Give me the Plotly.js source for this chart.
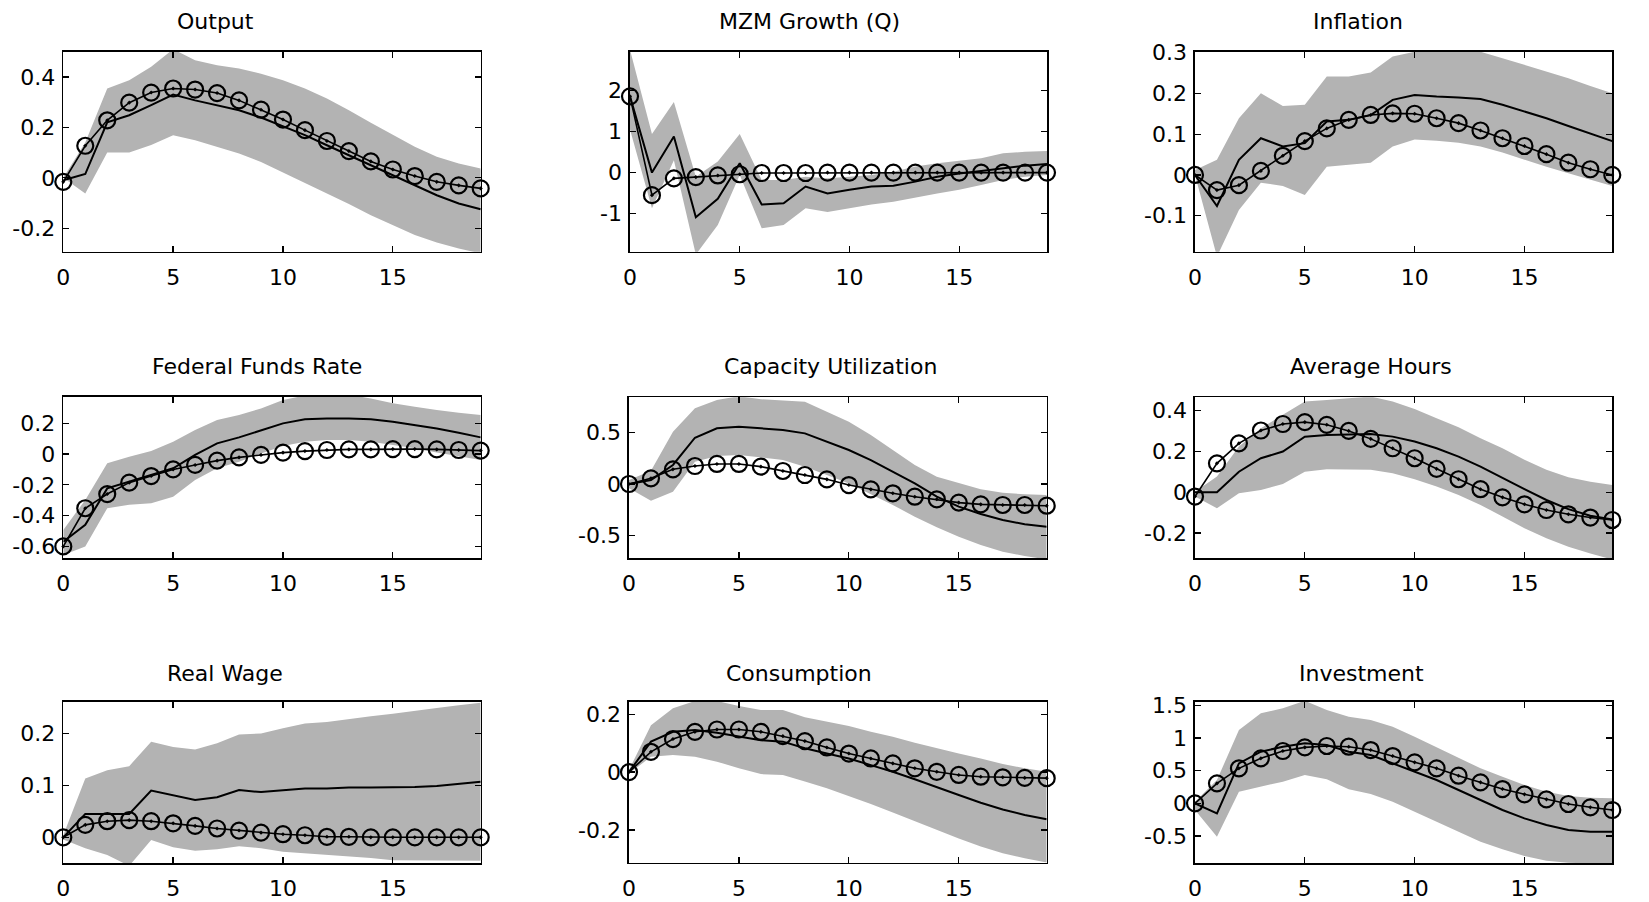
<!DOCTYPE html>
<html>
<head>
<meta charset="utf-8">
<script src="https://cdn.plot.ly/plotly-3.0.1.min.js"></script>
<style>
html,body{margin:0;padding:0;background:#fff;}
#chart{width:1649px;height:902px;}
</style>
</head>
<body>
<div id="chart"></div>
<script>
// Horizon (quarters)
const horizon = [0,1,2,3,4,5,6,7,8,9,10,11,12,13,14,15,16,17,18,19];
const xTickVals = [0,5,10,15];
const xTickText = ["0","5","10","15"];

const panelTitles = ["Output","MZM Growth (Q)","Inflation","Federal Funds Rate","Capacity Utilization","Average Hours","Real Wage","Consumption","Investment"];

// Output
const outputModel = [-0.016,0.127,0.228,0.298,0.338,0.354,0.35,0.336,0.307,0.27,0.231,0.189,0.146,0.106,0.065,0.033,0.007,-0.016,-0.03,-0.042];
const outputVar   = [-0.01,0.015,0.22,0.248,0.288,0.33,0.307,0.288,0.268,0.239,0.204,0.169,0.129,0.09,0.05,0.01,-0.029,-0.069,-0.102,-0.125];
const outputUpper = [0,0.14,0.354,0.387,0.44,0.51,0.466,0.446,0.433,0.413,0.387,0.354,0.314,0.268,0.218,0.169,0.123,0.083,0.057,0.037];
const outputLower = [0,-0.062,0.1,0.1,0.13,0.169,0.149,0.123,0.096,0.063,0.024,-0.02,-0.062,-0.104,-0.148,-0.187,-0.227,-0.257,-0.28,-0.3];
const outputTicks = [-0.2,0,0.2,0.4];
const outputTickText = ["-0.2","0","0.2","0.4"];

// MZM Growth (Q)
const mzmModel = [1.86,-0.55,-0.14,-0.11,-0.07,-0.04,-0.01,-0.01,-0.01,0,0,0,0,0,0,0,0,0,0,0];
const mzmVar   = [1.86,0,0.88,-1.09,-0.64,0.23,-0.78,-0.75,-0.34,-0.51,-0.42,-0.34,-0.32,-0.22,-0.1,-0.02,0.04,0.11,0.17,0.21];
const mzmUpper = [3.0,0.94,1.72,-0.1,0.27,0.94,-0.18,-0.18,-0.1,-0.14,-0.1,-0.06,0.02,0.15,0.23,0.29,0.35,0.47,0.51,0.53];
const mzmLower = [1.05,-0.87,0.3,-2.0,-1.28,-0.06,-1.36,-1.28,-0.87,-0.96,-0.87,-0.78,-0.71,-0.61,-0.51,-0.42,-0.3,-0.18,-0.1,-0.06];
const mzmTicks = [-1,0,1,2];
const mzmTickText = ["-1","0","1","2"];

// Inflation
const inflModel = [0,-0.037,-0.025,0.01,0.047,0.083,0.114,0.135,0.147,0.151,0.15,0.139,0.127,0.109,0.09,0.071,0.051,0.03,0.014,0];
const inflVar   = [0,-0.076,0.037,0.09,0.07,0.078,0.131,0.135,0.147,0.184,0.196,0.192,0.19,0.186,0.172,0.155,0.139,0.12,0.102,0.083];
const inflUpper = [0.012,0.037,0.139,0.2,0.169,0.172,0.241,0.241,0.251,0.29,0.302,0.307,0.307,0.302,0.286,0.27,0.253,0.237,0.218,0.2];
const inflLower = [0,-0.2,-0.086,-0.019,-0.027,-0.049,0.02,0.025,0.03,0.07,0.087,0.084,0.079,0.07,0.055,0.038,0.02,0.004,-0.012,-0.027];
const inflTicks = [-0.1,0,0.1,0.2,0.3];
const inflTickText = ["-0.1","0","0.1","0.2","0.3"];

// Federal Funds Rate
const ffrModel = [-0.6,-0.352,-0.26,-0.186,-0.143,-0.1,-0.071,-0.043,-0.022,-0.006,0.009,0.019,0.026,0.03,0.03,0.032,0.032,0.03,0.026,0.022];
const ffrVar   = [-0.569,-0.46,-0.223,-0.18,-0.136,-0.093,-0.006,0.069,0.108,0.156,0.199,0.225,0.231,0.231,0.225,0.21,0.188,0.166,0.138,0.108];
const ffrUpper = [-0.493,-0.298,-0.06,-0.017,0.019,0.08,0.156,0.22,0.253,0.296,0.35,0.38,0.385,0.385,0.361,0.329,0.307,0.285,0.268,0.253];
const ffrLower = [-0.655,-0.6,-0.352,-0.33,-0.32,-0.277,-0.169,-0.093,-0.05,0.004,0.052,0.08,0.091,0.091,0.08,0.058,0.037,0.009,-0.017,-0.039];
const ffrTicks = [-0.6,-0.4,-0.2,0,0.2];
const ffrTickText = ["-0.6","-0.4","-0.2","0","0.2"];

// Capacity Utilization
const capModel = [0,0.055,0.142,0.174,0.194,0.194,0.168,0.126,0.087,0.045,-0.01,-0.052,-0.09,-0.123,-0.148,-0.18,-0.197,-0.203,-0.203,-0.21];
const capVar   = [0,0.039,0.184,0.448,0.539,0.555,0.539,0.523,0.49,0.41,0.329,0.232,0.119,0.006,-0.123,-0.219,-0.29,-0.348,-0.39,-0.413];
const capUpper = [0.039,0.129,0.506,0.732,0.813,0.85,0.82,0.806,0.797,0.7,0.603,0.474,0.329,0.184,0.071,0.006,-0.052,-0.084,-0.1,-0.106];
const capLower = [-0.042,-0.161,-0.074,0.216,0.271,0.281,0.258,0.232,0.168,0.087,0.006,-0.097,-0.203,-0.316,-0.419,-0.51,-0.59,-0.655,-0.697,-0.73];
const capTicks = [-0.5,0,0.5];
const capTickText = ["-0.5","0","0.5"];

// Average Hours
const hoursModel = [-0.021,0.142,0.24,0.303,0.335,0.344,0.331,0.301,0.262,0.216,0.167,0.115,0.064,0.015,-0.025,-0.059,-0.087,-0.108,-0.124,-0.136];
const hoursVar   = [0,0,0.101,0.167,0.2,0.273,0.281,0.285,0.286,0.273,0.249,0.216,0.175,0.126,0.069,0.015,-0.038,-0.083,-0.115,-0.133];
const hoursUpper = [0.003,0.077,0.224,0.314,0.38,0.445,0.453,0.462,0.47,0.445,0.408,0.363,0.319,0.265,0.216,0.159,0.11,0.074,0.052,0.036];
const hoursLower = [-0.021,-0.079,-0.005,0.011,0.041,0.101,0.113,0.11,0.11,0.093,0.064,0.028,-0.013,-0.062,-0.119,-0.177,-0.226,-0.267,-0.3,-0.33];
const hoursTicks = [-0.2,0,0.2,0.4];
const hoursTickText = ["-0.2","0","0.2","0.4"];

// Real Wage
const wageModel = [0,0.024,0.031,0.033,0.031,0.027,0.022,0.017,0.013,0.009,0.006,0.004,0.001,0.001,0,0,0,0,0,0];
const wageVar   = [0,0.045,0.045,0.045,0.09,0.081,0.072,0.077,0.091,0.087,0.091,0.094,0.094,0.096,0.096,0.096,0.097,0.099,0.103,0.107];
const wageUpper = [0.004,0.113,0.129,0.137,0.184,0.174,0.169,0.181,0.198,0.2,0.21,0.219,0.222,0.228,0.233,0.238,0.244,0.249,0.254,0.259];
const wageLower = [-0.004,-0.021,-0.034,-0.055,-0.005,-0.019,-0.026,-0.023,-0.017,-0.021,-0.028,-0.031,-0.034,-0.037,-0.04,-0.044,-0.045,-0.045,-0.045,-0.045];
const wageTicks = [0,0.1,0.2];
const wageTickText = ["0","0.1","0.2"];

// Consumption
const consModel = [0,0.07,0.114,0.139,0.147,0.147,0.139,0.124,0.107,0.085,0.064,0.047,0.03,0.013,0.001,-0.01,-0.016,-0.018,-0.02,-0.021];
const consVar   = [0,0.105,0.139,0.145,0.136,0.122,0.11,0.105,0.082,0.064,0.047,0.024,0.001,-0.025,-0.051,-0.079,-0.106,-0.129,-0.148,-0.163];
const consUpper = [0.007,0.162,0.22,0.245,0.245,0.228,0.214,0.214,0.189,0.174,0.159,0.139,0.122,0.101,0.082,0.064,0.047,0.028,0.013,0.001];
const consLower = [-0.005,0.053,0.059,0.053,0.036,0.013,-0.007,-0.01,-0.033,-0.056,-0.083,-0.11,-0.14,-0.171,-0.2,-0.229,-0.257,-0.28,-0.298,-0.312];
const consTicks = [-0.2,0,0.2];
const consTickText = ["-0.2","0","0.2"];

// Investment
const invModel = [0,0.306,0.536,0.689,0.801,0.857,0.878,0.867,0.816,0.724,0.628,0.536,0.423,0.321,0.219,0.138,0.061,-0.01,-0.061,-0.102];
const invVar   = [0,-0.153,0.612,0.791,0.867,0.918,0.893,0.791,0.74,0.612,0.485,0.357,0.204,0.051,-0.102,-0.23,-0.332,-0.408,-0.434,-0.434];
const invUpper = [0.026,0.357,1.122,1.378,1.454,1.57,1.429,1.327,1.276,1.173,1.02,0.857,0.689,0.536,0.408,0.281,0.179,0.112,0.087,0.077];
const invLower = [-0.102,-0.51,0.179,0.255,0.332,0.434,0.367,0.214,0.143,0.026,-0.128,-0.281,-0.434,-0.587,-0.704,-0.806,-0.878,-0.908,-0.918,-0.93];
const invTicks = [-0.5,0,0.5,1,1.5];
const invTickText = ["-0.5","0","0.5","1","1.5"];

const W = 1649, H = 902;
// panel geometry in pixels: [left, right, top, bottom]
const boxes = [
  [63.3,480.7,51.7,251.7],[630,1047,51.7,251.7],[1195,1612.3,51.7,251.7],
  [63.3,480.7,396.7,558.3],[629,1046.7,397.3,558.3],[1195,1612.3,397.3,558.3],
  [63.3,480.7,701.7,863.3],[629,1046.7,701.7,862.7],[1195,1612.3,701.7,863.3]
];
const yRanges = [[-0.293,0.5],[-1.93,2.95],[-0.188,0.302],[-0.677,0.372],[-0.719,0.839],[-0.324,0.466],[-0.05,0.261],[-0.313,0.243],[-0.918,1.556]];
const titlePos = [[215,21.7],[809,21.7],[1358,21.7],[257,366.7],[830,366.7],[1371,366.7],[225,673],[799,673],[1361,673]];

const panels = [
  {model:outputModel,varr:outputVar,up:outputUpper,lo:outputLower,tv:outputTicks,tt:outputTickText},
  {model:mzmModel,varr:mzmVar,up:mzmUpper,lo:mzmLower,tv:mzmTicks,tt:mzmTickText},
  {model:inflModel,varr:inflVar,up:inflUpper,lo:inflLower,tv:inflTicks,tt:inflTickText},
  {model:ffrModel,varr:ffrVar,up:ffrUpper,lo:ffrLower,tv:ffrTicks,tt:ffrTickText},
  {model:capModel,varr:capVar,up:capUpper,lo:capLower,tv:capTicks,tt:capTickText},
  {model:hoursModel,varr:hoursVar,up:hoursUpper,lo:hoursLower,tv:hoursTicks,tt:hoursTickText},
  {model:wageModel,varr:wageVar,up:wageUpper,lo:wageLower,tv:wageTicks,tt:wageTickText},
  {model:consModel,varr:consVar,up:consUpper,lo:consLower,tv:consTicks,tt:consTickText},
  {model:invModel,varr:invVar,up:invUpper,lo:invLower,tv:invTicks,tt:invTickText}
];

const FONT = '"DejaVu Sans", "Liberation Sans", Arial, sans-serif';
const TICK_SIZE = 22;
const traces = [];
const layout = {
  width: W, height: H,
  margin: {l:0,r:0,t:0,b:0},
  paper_bgcolor: '#ffffff',
  plot_bgcolor: '#ffffff',
  showlegend: false,
  font: {family: FONT, size: TICK_SIZE, color: '#000'},
  annotations: []
};

panels.forEach((p, i) => {
  const n = i + 1;
  const xa = n === 1 ? 'x' : 'x' + n;
  const ya = n === 1 ? 'y' : 'y' + n;
  const b = boxes[i];
  // shaded band
  traces.push({
    x: horizon.concat(horizon.slice().reverse()),
    y: p.up.concat(p.lo.slice().reverse()),
    xaxis: xa, yaxis: ya,
    type: 'scatter', mode: 'lines', fill: 'toself',
    fillcolor: '#b3b3b3', line: {width: 0, color: 'rgba(0,0,0,0)'},
    hoverinfo: 'skip'
  });
  // VAR response
  traces.push({
    x: horizon, y: p.varr, xaxis: xa, yaxis: ya,
    type: 'scatter', mode: 'lines',
    line: {color: '#000', width: 2}
  });
  // model response
  traces.push({
    x: horizon, y: p.model, xaxis: xa, yaxis: ya,
    type: 'scatter', mode: 'lines+markers', cliponaxis: false,
    line: {color: '#000', width: 1.6},
    marker: {symbol: 'circle-open-dot', size: 16, color: '#000', line: {color: '#000', width: 2.2}}
  });
  const xKey = n === 1 ? 'xaxis' : 'xaxis' + n;
  const yKey = n === 1 ? 'yaxis' : 'yaxis' + n;
  layout[xKey] = {
    domain: [b[0]/W, b[1]/W], anchor: ya,
    range: [0, 19], tickvals: xTickVals, ticktext: xTickText,
    ticks: 'inside', ticklen: 6, tickwidth: 1.3, tickcolor: '#000',
    showline: true, linecolor: '#000', linewidth: 1.6, mirror: 'ticks',
    showgrid: false, zeroline: false, ticklabelstandoff: 5,
    tickfont: {family: FONT, size: TICK_SIZE, color: '#000'}
  };
  layout[yKey] = {
    domain: [1 - b[3]/H, 1 - b[2]/H], anchor: xa,
    range: yRanges[i], tickvals: p.tv, ticktext: p.tt,
    ticks: 'inside', ticklen: 6, tickwidth: 1.3, tickcolor: '#000',
    showline: true, linecolor: '#000', linewidth: 1.6, mirror: 'ticks',
    showgrid: false, zeroline: false, ticklabelstandoff: 2,
    tickfont: {family: FONT, size: TICK_SIZE, color: '#000'}
  };
  layout.annotations.push({
    text: panelTitles[i], xref: 'paper', yref: 'paper',
    x: titlePos[i][0]/W, y: 1 - titlePos[i][1]/H,
    xanchor: 'center', yanchor: 'middle', showarrow: false,
    font: {family: FONT, size: 22, color: '#000'}
  });
});

Plotly.newPlot('chart', traces, layout, {displayModeBar: false, staticPlot: true});
</script>
</body>
</html>
